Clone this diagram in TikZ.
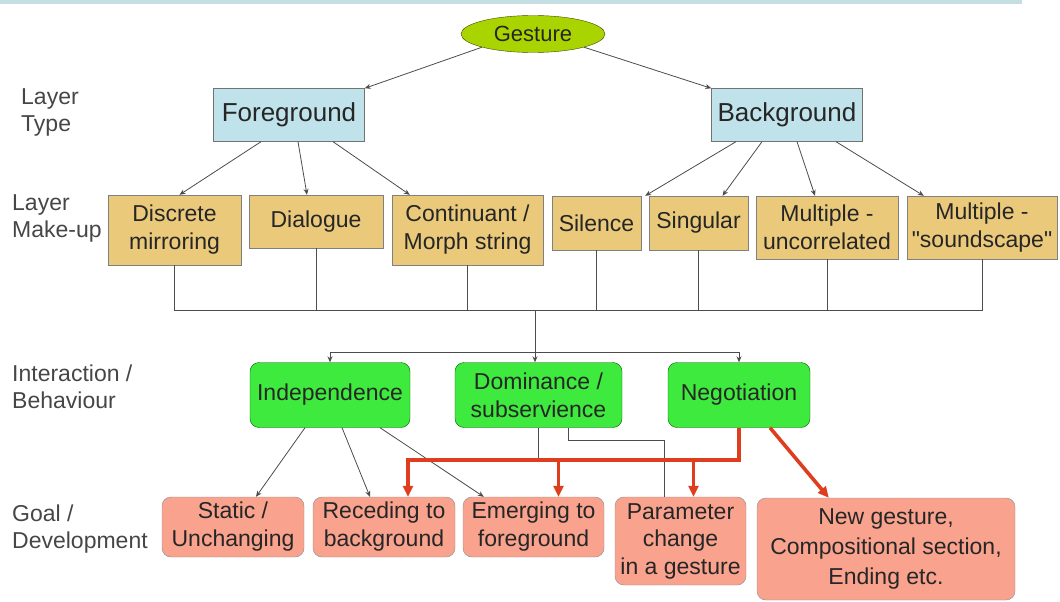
\documentclass[tikz,border=0pt]{standalone}
\usepackage{fontspec}
\setmainfont{Liberation Sans}
\usepackage{tikz}
\usetikzlibrary{arrows.meta,calc,shapes.geometric}

\definecolor{strip}{RGB}{196,222,226}
\definecolor{gestgreen}{RGB}{170,212,0}
\definecolor{typeblue}{RGB}{192,226,234}
\definecolor{makeup}{RGB}{234,201,122}
\definecolor{behgreen}{RGB}{62,234,62}
\definecolor{goalred}{RGB}{249,162,142}
\definecolor{redline}{RGB}{222,62,30}
\definecolor{lab}{RGB}{70,70,70}

\tikzset{
  txt/.style={font=\fontsize{23}{28}\selectfont, align=center, text=black!85, inner sep=2pt},
  typebox/.style={txt, draw=black!55, fill=typeblue, minimum width=151, minimum height=53, font=\fontsize{26}{30}\selectfont},
  makebox/.style={txt, draw=black!50, fill=makeup},
  behbox/.style={txt, draw=black!40!green!60!black, fill=behgreen, rounded corners=9, minimum height=65},
  goalbox/.style={txt, draw=black!45, fill=goalred, rounded corners=9},
  side/.style={font=\fontsize{23}{27}\selectfont, align=left, text=lab, anchor=west, inner sep=0pt},
  arr/.style={-{Stealth[length=6,width=5]}, draw=black!70, line width=0.8},
  ln/.style={draw=black!70, line width=0.8},
  redarr/.style={-{Triangle[length=11,width=10]}, draw=redline, line width=3.6}
}

\begin{document}
\begin{tikzpicture}[x=1pt,y=-1pt]
\useasboundingbox (0,0) rectangle (1060,602);
\fill[strip] (0,0) rectangle (1022,4);

% side labels
\node[side] (ltype) at (21,112) {Layer\\Type};
\node[side] (lmake) at (12,218) {Layer\\Make-up};
\node[side] (linter) at (12,387) {Interaction /\\Behaviour};
\node[side] (lgoal) at (12,529) {Goal /\\Development};

% top
\node[ellipse, draw=black!40!gestgreen!60!black, fill=gestgreen, minimum width=144, minimum height=37, txt, font=\fontsize{22}{26}\selectfont] (gesture) at (533,34) {Gesture};
\node[typebox] (fg) at (289,115) {Foreground};
\node[typebox] (bg) at (787,115) {Background};

% layer make-up
\node[makebox, minimum width=133, minimum height=70] (discrete) at (174.5,230) {Discrete\\mirroring};
\node[makebox, minimum width=134, minimum height=53] (dialogue) at (316,221.5) {Dialogue};
\node[makebox, minimum width=151, minimum height=70] (morph) at (467.5,230) {Continuant /\\Morph string};
\node[makebox, minimum width=89, minimum height=54] (silence) at (596.5,223) {Silence};
\node[makebox, minimum width=99, minimum height=54] (singular) at (698.5,223) {Singular};
\node[makebox, minimum width=142, minimum height=63] (uncorr) at (827,227.5) {Multiple -\\uncorrelated};
\node[makebox, minimum width=150, minimum height=63] (soundscape) at (982,227.5) {Multiple -\\\textquotedbl soundscape\textquotedbl};

% interaction
\node[behbox, minimum width=160] (indep) at (330,395) {Independence};
\node[behbox, minimum width=167] (domin) at (538.5,395) {Dominance /\\subservience};
\node[behbox, minimum width=142] (negot) at (739,395) {Negotiation};

% goals
\node[goalbox, minimum width=142, minimum height=60] (static) at (233,527) {Static /\\Unchanging};
\node[goalbox, minimum width=142, minimum height=60] (receding) at (384,527) {Receding to\\background};
\node[goalbox, minimum width=141, minimum height=60] (emerging) at (533.5,527) {Emerging to\\foreground};
\node[goalbox, minimum width=131, minimum height=88, font=\fontsize{23}{27.5}\selectfont] (param) at (680.5,541) {Parameter\\change\\in a gesture};
\node[goalbox, minimum width=258, minimum height=102, font=\fontsize{23}{30}\selectfont] (newgest) at (886,549) {New gesture,\\Compositional section,\\Ending etc.};

\coordinate (bus) at (535,310);
\coordinate (split) at (535,352);
\coordinate (redbus) at (739,460);

% gesture -> layer type
\draw[arr] (gesture.south west) -- (fg.north east);
\draw[arr] (gesture.south east) -- (bg.north west);

% layer type -> make-up
\draw[arr] ([xshift=-28]fg.south) -- ([xshift=5]discrete.north);
\draw[arr] ([xshift=9]fg.south) -- ([xshift=-9]dialogue.north);
\draw[arr] ([xshift=44]fg.south) -- ([xshift=18]morph.north west);
\draw[arr] ([xshift=-51]bg.south) -- ([xshift=4]silence.north east);
\draw[arr] ([xshift=-25]bg.south) -- ([xshift=24]singular.north);
\draw[arr] ([xshift=10]bg.south) -- ([xshift=-12]uncorr.north);
\draw[arr] ([xshift=49]bg.south) -- ([xshift=17]soundscape.north west);

% collecting bus
\draw[ln] (discrete.south) -- (discrete.south |- bus) -- (soundscape.south |- bus) -- (soundscape.south);
\foreach \n in {dialogue,morph,silence,singular,uncorr}
  \draw[ln] (\n.south) -- (\n.south |- bus);
\draw[ln] (bus) -- (split);
\draw[arr] (split) -| (indep.north);
\draw[arr] (split) -| (negot.north);
\draw[arr] (split) -- (split |- domin.north);

% independence
\draw[arr] ([xshift=-25]indep.south) -- ([xshift=23]static.north);
\draw[arr] ([xshift=12]indep.south) -- ([xshift=-14]receding.north);
\draw[arr] ([xshift=50]indep.south) -- ([xshift=21]emerging.north west);

% dominance
\draw[ln] (domin.south) -- (domin.south |- redbus);
\draw[ln] ([xshift=30]domin.south) -- ++(0,13) -| ([xshift=-16]param.north);

% negotiation
\draw[redarr, line join=miter] (negot.south) -- (redbus) -| ([xshift=24]receding.north);
\draw[redarr] ([xshift=25]emerging.north |- redbus) -- ([xshift=25]emerging.north);
\draw[redarr] ([xshift=13]param.north |- redbus) -- ([xshift=13]param.north);
\draw[redarr] ([xshift=31]negot.south) -- ([xshift=72]newgest.north west);
\end{tikzpicture}
\end{document}
